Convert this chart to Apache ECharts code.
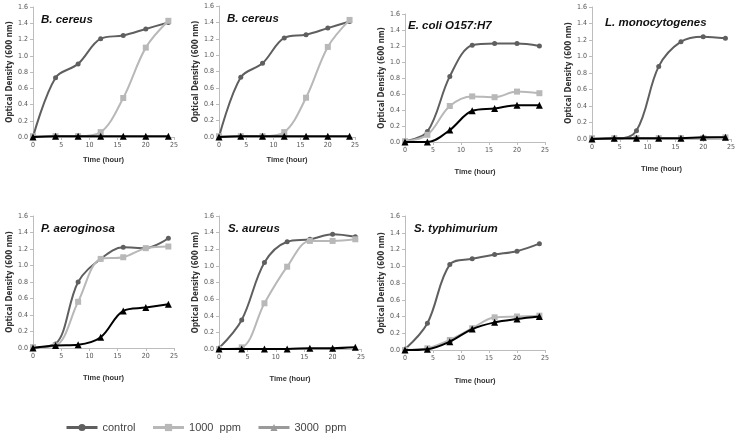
<!DOCTYPE html>
<html>
<head>
<meta charset="utf-8">
<script src="https://cdn.jsdelivr.net/npm/echarts@6/dist/echarts.min.js"></script>
<style>
  html, body { margin: 0; padding: 0; background: #fff; }
  #main { width: 738px; height: 441px; }
</style>
</head>
<body>
<div id="main"></div>
<script>
// sampling times (hour)
const hours = [0, 4, 8, 12, 16, 20, 24]
const seriesNames = ['control', '1000 ppm', '3000 ppm']

// OD600 readings per organism
const cereusCtrl = [0.00, 0.73, 0.90, 1.21, 1.25, 1.33, 1.41]
const cereus1000 = [0.01, 0.01, 0.01, 0.06, 0.48, 1.10, 1.43]
const cereus3000 = [0.00, 0.01, 0.01, 0.01, 0.01, 0.01, 0.01]

const ecoliCtrl = [0.01, 0.13, 0.82, 1.21, 1.23, 1.23, 1.20]
const ecoli1000 = [0.01, 0.09, 0.45, 0.57, 0.56, 0.63, 0.61]
const ecoli3000 = [0.00, 0.00, 0.15, 0.39, 0.42, 0.46, 0.46]

const monoCtrl = [0.00, 0.00, 0.10, 0.88, 1.18, 1.24, 1.22]
const mono1000 = [0.01, 0.01, 0.01, 0.01, 0.01, 0.01, 0.02]
const mono3000 = [0.00, 0.01, 0.01, 0.01, 0.01, 0.02, 0.02]

const aeroCtrl = [0.01, 0.05, 0.80, 1.08, 1.22, 1.21, 1.33]
const aero1000 = [0.01, 0.03, 0.56, 1.08, 1.10, 1.21, 1.23]
const aero3000 = [0.00, 0.03, 0.04, 0.13, 0.45, 0.49, 0.53]

const aureusCtrl = [0.01, 0.35, 1.04, 1.29, 1.32, 1.38, 1.35]
const aureus1000 = [0.00, 0.02, 0.55, 0.99, 1.30, 1.30, 1.32]
const aureus3000 = [0.00, 0.00, 0.00, 0.00, 0.01, 0.01, 0.02]

const typhiCtrl = [0.01, 0.32, 1.02, 1.09, 1.14, 1.18, 1.27]
const typhi1000 = [0.00, 0.02, 0.12, 0.26, 0.39, 0.40, 0.41]
const typhi3000 = [0.00, 0.01, 0.10, 0.25, 0.33, 0.37, 0.40]

const panels = [
  { title: 'B. cereus', data: [cereusCtrl, cereus1000, cereus3000],
    box: { left: 33, top: 7, width: 141, height: 130 }, gap: 19, tpos: [36, 9] },
  { title: 'B. cereus', data: [cereusCtrl, cereus1000, cereus3000],
    box: { left: 219, top: 6, width: 136, height: 131 }, gap: 19, tpos: [222, 8] },
  { title: 'E. coli', extra: 'O157:H7', data: [ecoliCtrl, ecoli1000, ecoli3000],
    box: { left: 405, top: 14, width: 140, height: 128 }, gap: 26, tpos: [403, 15] },
  { title: 'L. monocytogenes', data: [monoCtrl, mono1000, mono3000],
    box: { left: 592, top: 7, width: 141, height: 132 }, gap: 26, tpos: [600, 12] },
  { title: 'P. aeroginosa', data: [aeroCtrl, aero1000, aero3000],
    box: { left: 33, top: 216, width: 141, height: 132 }, gap: 26, tpos: [36, 218] },
  { title: 'S. aureus', data: [aureusCtrl, aureus1000, aureus3000],
    box: { left: 219, top: 216, width: 142, height: 133 }, gap: 26, tpos: [223, 218] },
  { title: 'S. typhimurium', data: [typhiCtrl, typhi1000, typhi3000],
    box: { left: 405, top: 216, width: 140, height: 134 }, gap: 27, tpos: [409, 218] }
]

const narrow = "'Liberation Sans Narrow', 'DejaVu Sans Condensed', sans-serif"
const sans = "'Liberation Sans', Arial, sans-serif"
const styles = [
  { color: '#5f5f5f', symbol: 'circle', size: 5 },
  { color: '#b8b8b8', symbol: 'rect', size: 6 },
  { color: '#000000', symbol: 'triangle', size: 7 }
]

const grid = [], xAxis = [], yAxis = [], series = [], title = []

panels.forEach((p, i) => {
  grid.push(p.box)
  xAxis.push({
    gridIndex: i,
    type: 'value',
    min: 0, max: 25, interval: 5,
    name: 'Time (hour)',
    nameLocation: 'middle',
    nameGap: p.gap,
    nameTextStyle: { fontFamily: sans, fontWeight: 'bold', fontSize: 7.5, color: '#333' },
    axisLine: { lineStyle: { color: '#bdbdbd' } },
    axisTick: { show: true, length: 3, lineStyle: { color: '#bdbdbd' } },
    axisLabel: { fontFamily: narrow, fontSize: 7, color: '#555', margin: 5 },
    splitLine: { show: false }
  })
  yAxis.push({
    gridIndex: i,
    type: 'value',
    min: 0, max: 1.6, interval: 0.2,
    name: 'Optical Density (600 nm)',
    nameLocation: 'middle',
    nameGap: 19,
    nameTextStyle: { fontFamily: narrow, fontWeight: 'bold', fontSize: 8, color: '#333' },
    axisLine: { show: true, lineStyle: { color: '#bdbdbd' } },
    axisTick: { show: true, length: 3, lineStyle: { color: '#bdbdbd' } },
    axisLabel: { fontFamily: narrow, fontSize: 7, color: '#555', margin: 5,
      formatter: v => v.toFixed(1) },
    splitLine: { show: false }
  })
  title.push({
    text: p.extra ? '{i|' + p.title + '} {n|' + p.extra + '}' : p.title,
    left: p.tpos[0],
    top: p.tpos[1],
    textStyle: {
      fontFamily: sans, fontSize: 11.5, fontWeight: 'bold', fontStyle: 'italic', color: '#111',
      rich: {
        i: { fontFamily: sans, fontSize: 11.5, fontWeight: 'bold', fontStyle: 'italic', color: '#111' },
        n: { fontFamily: sans, fontSize: 11.5, fontWeight: 'bold', color: '#111' }
      }
    }
  })
  p.data.forEach((vals, k) => {
    const s = styles[k]
    series.push({
      name: seriesNames[k],
      type: 'line',
      xAxisIndex: i,
      yAxisIndex: i,
      smooth: 0.35,
      data: hours.map((h, j) => [h, vals[j]]),
      symbol: s.symbol,
      symbolSize: s.size,
      lineStyle: { color: s.color, width: 2 },
      itemStyle: { color: s.color },
      z: 2 + k
    })
  })
})

const chart = echarts.init(document.getElementById('main'))
chart.setOption({
  animation: false,
  title,
  grid,
  xAxis,
  yAxis,
  series,
  legend: {
    left: 60,
    top: 417,
    itemWidth: 31,
    itemHeight: 9,
    itemGap: 16,
    formatter: name => name.replace(' ', '  '),
    lineStyle: { width: 3 },
    textStyle: { fontFamily: sans, fontSize: 11, color: '#444' },
    data: [
      { name: 'control' },
      { name: '1000 ppm' },
      { name: '3000 ppm', itemStyle: { color: '#9a9a9a' }, lineStyle: { color: '#9a9a9a', width: 3 } }
    ]
  }
})
</script>
</body>
</html>
